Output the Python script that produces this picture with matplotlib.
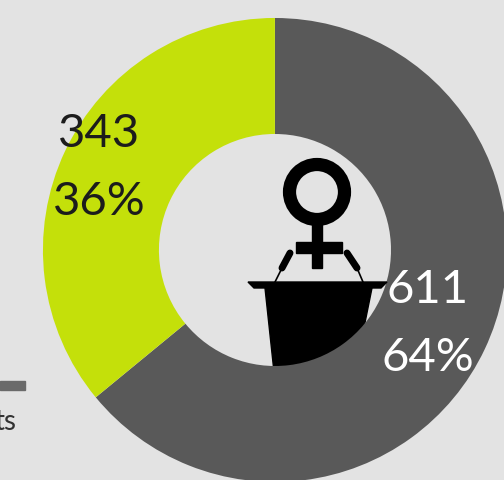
import matplotlib
matplotlib.use("Agg")
import matplotlib.pyplot as plt
from matplotlib.patches import Circle, Polygon, Rectangle

values = [611, 343]
percents = [64, 36]
colors = ["#595959", "#c4e00a"]
text_colors = ["white", "#1c1c1c"]
explode = [0, 18 / 232]
label_pos = [(428, 290), (99, 134)]
legend_word = "ts"

fig = plt.figure(figsize=(5.04, 4.8), dpi=100, facecolor="#e3e3e3")
ax = fig.add_axes([0, 0, 1, 1])

# icon goes under the ring so the ring trims the podium
ax.add_patch(Polygon([(265, 192), (372, 192), (355, 108), (274, 108)], color="black", zorder=1))

ax.pie(values, colors=colors, startangle=90, counterclock=False, explode=explode,
       radius=232, center=(275, 230), frame=True,
       wedgeprops=dict(width=116, linewidth=0), normalize=True)
for w in ax.patches:
    if w.get_zorder() == 1 and not isinstance(w, Polygon):
        w.set_zorder(2)

# venus sign
ax.add_patch(Circle((317, 288), 27.5, fill=False, ec="black", lw=9.5, zorder=3))
ax.add_patch(Rectangle((312, 212), 10, 46, color="black", zorder=3))
ax.add_patch(Rectangle((296, 227), 46, 11, color="black", zorder=3))

# podium top and the two mics
ax.add_patch(Polygon([(248, 198), (387, 198), (381, 192), (254, 192)], color="black", zorder=3))
ax.plot([275, 282], [198, 212], color="black", lw=1.2, zorder=3)
ax.plot([282, 290], [212, 227], color="black", lw=5, solid_capstyle="round", zorder=3)
ax.plot([363, 357], [198, 212], color="black", lw=1.2, zorder=3)
ax.plot([357, 347], [212, 227], color="black", lw=5, solid_capstyle="round", zorder=3)

for v, p, c, pos in zip(values, percents, text_colors, label_pos):
    ax.text(pos[0], 480 - pos[1] - 0, str(v), color=c, fontsize=34, family="Lato",
            ha="center", va="center", zorder=4)
    ax.text(pos[0] + 0, 480 - pos[1] - 68, f"{p}%", color=c, fontsize=34, family="Lato",
            ha="center", va="center", zorder=4)

# leftovers of the cropped legend
ax.add_patch(Rectangle((0, 90), 25, 9, color="#6a6a6a", zorder=3))
ax.text(16, 58, legend_word, color="#333333", fontsize=20, family="Lato", ha="right", va="center")

ax.set_xlim(0, 504)
ax.set_ylim(0, 480)
ax.set_aspect("equal")
ax.axis("off")
fig.savefig("out.png", dpi=100, facecolor=fig.get_facecolor())
